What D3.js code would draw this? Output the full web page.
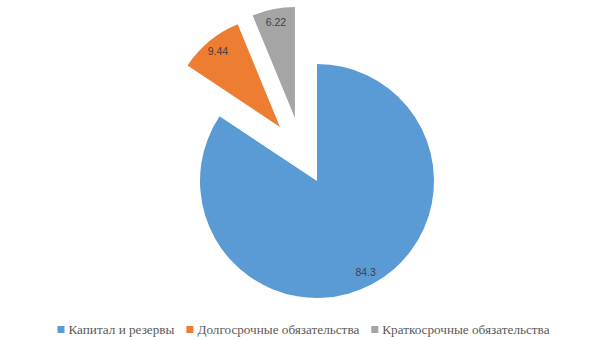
<!DOCTYPE html>
<html><head><meta charset="utf-8">
<script src="https://cdn.jsdelivr.net/npm/d3@7"></script>
<style>body{margin:0;background:#fff;}svg{display:block;}</style>
</head><body>
<svg id="c" width="605" height="340"></svg>
<script>
const categories = ["Капитал и резервы", "Долгосрочные обязательства", "Краткосрочные обязательства"];
const values = [84.3, 9.44, 6.22];
const labels = ["84.3", "9.44", "6.22"];
const colors = ["#5B9BD5", "#ED7D31", "#A5A5A5"];

const W = 605, H = 340;
const cx = 317, cy = 181, R = 117, Rex = 111;
// explosion: distance and direction (degrees clockwise from top)
const explode = [{d: 0, a: 0}, {d: 65.5, a: 325.6}, {d: 66.7, a: 340.7}];

const svg = d3.select("#c");
const pie = d3.pie().sort(null).value(d => d)(values);
const g = svg.append("g").attr("transform", `translate(${cx},${cy})`);

pie.forEach((p, i) => {
  const r = i === 0 ? R : Rex;
  const rad = explode[i].a * Math.PI / 180;
  const ox = explode[i].d * Math.sin(rad), oy = -explode[i].d * Math.cos(rad);
  const arc = d3.arc().innerRadius(0).outerRadius(r);
  const sg = g.append("g").attr("transform", `translate(${ox},${oy})`);
  sg.append("path").attr("d", arc(p)).attr("fill", colors[i]);
  const mid = (p.startAngle + p.endAngle) / 2;
  const lr = r * 0.88;
  sg.append("text")
    .attr("x", lr * Math.sin(mid)).attr("y", -lr * Math.cos(mid))
    .attr("text-anchor", "middle").attr("dominant-baseline", "central")
    .style("font-family", "'Liberation Sans', Arial, sans-serif")
    .attr("font-size", 10.5).attr("fill", "#404040")
    .text(labels[i]);
});

// legend
const lg = svg.append("g");
let x = 0;
categories.forEach((c, i) => {
  const it = lg.append("g");
  it.append("rect").attr("x", 0).attr("y", -3.5).attr("width", 7).attr("height", 7).attr("fill", colors[i]);
  const t = it.append("text").attr("x", 11).attr("y", 0).attr("dominant-baseline", "central")
    .style("font-family", "'Liberation Serif', 'DejaVu Serif', serif").attr("font-size", 13.2).attr("fill", "#595959").text(c);
  const w = 11 + t.node().getComputedTextLength();
  it.attr("transform", `translate(${x},0)`);
  x += w + 12;
});
const total = x - 12;
lg.attr("transform", `translate(${(W - total) / 2 + 1},329.5)`);
</script>
</body></html>
